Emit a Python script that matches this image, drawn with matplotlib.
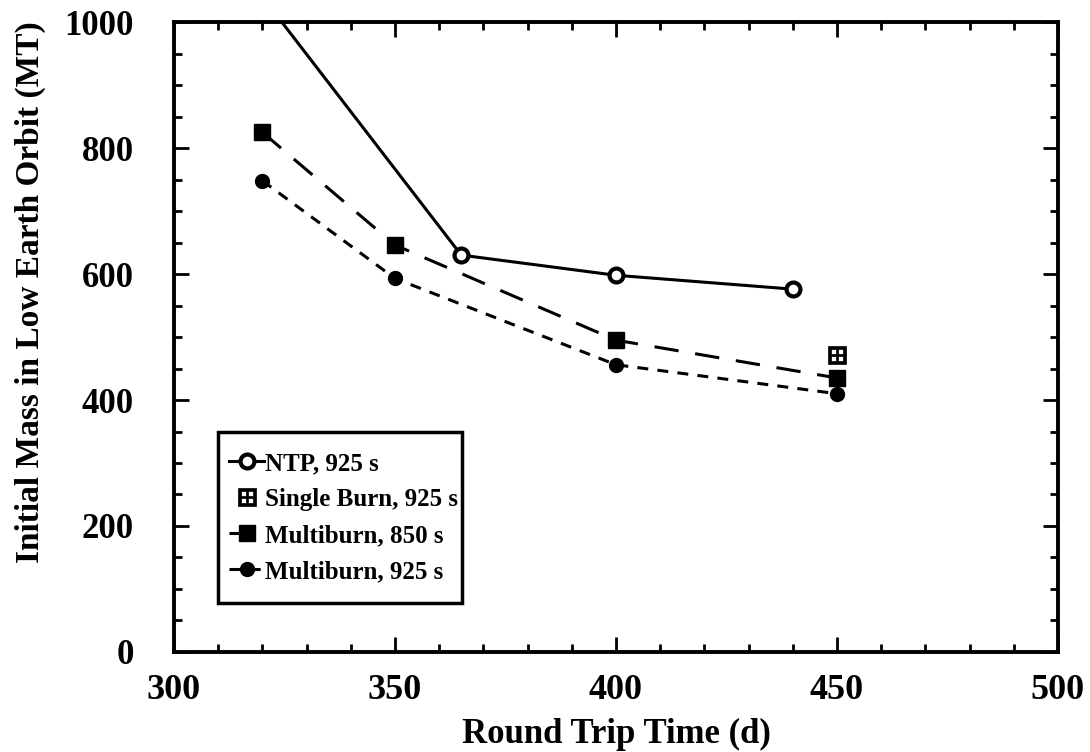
import matplotlib
matplotlib.use("Agg")
import matplotlib.pyplot as plt
from matplotlib.path import Path
from matplotlib.patches import Rectangle
from matplotlib.ticker import MultipleLocator

# data
ntp_x = [320, 365, 400, 440]
ntp_y = [1040, 630, 598, 576]

single_x = [450]
single_y = [471]

mb850_x = [320, 350, 400, 450]
mb850_y = [825, 646, 495, 435]

mb925_x = [320, 350, 400, 450]
mb925_y = [748, 593, 456, 410]

plt.rcParams['font.family'] = ['Liberation Serif', 'DejaVu Serif']
plt.rcParams['font.weight'] = 'bold'


def box(x0, y0, x1, y1, ccw=True):
    pts = [(x0, y0), (x1, y0), (x1, y1), (x0, y1)]
    if not ccw:
        pts = pts[::-1]
    return pts + [(x0, y0)]


# square with a cross: black square with four white windows
verts = box(-1, -1, 1, 1)
codes = [Path.MOVETO] + [Path.LINETO] * 3 + [Path.CLOSEPOLY]
for (a, b) in [(-0.7, -0.7), (0.15, -0.7), (-0.7, 0.15), (0.15, 0.15)]:
    verts += box(a, b, a + 0.55, b + 0.55, ccw=False)
    codes += [Path.MOVETO] + [Path.LINETO] * 3 + [Path.CLOSEPOLY]
cross_square = Path(verts, codes)

fig = plt.figure(figsize=(10.9, 7.52), dpi=100)
ax = fig.add_axes([0.1596, 0.133, 0.811, 0.8377])

ax.plot(ntp_x, ntp_y, color='black', lw=2.2, marker='o', ms=10,
        mfc='white', mec='black', mew=3, label='NTP, 925 s')
ax.plot(single_x, single_y, ls='none', marker=cross_square, ms=13,
        mfc='black', mec='black', mew=0.5, label='Single Burn, 925 s')
ax.plot(mb850_x, mb850_y, color='black', lw=2.2, ls=(0, (8, 5.5)), marker='s',
        ms=11, mfc='black', mec='black', label='Multiburn, 850 s')
ax.plot(mb925_x, mb925_y, color='black', lw=2.2, ls=(0, (3.6, 3)), marker='o',
        ms=10, mfc='black', mec='black', label='Multiburn, 925 s')

ax.set_xlim(300, 500)
ax.set_ylim(0, 1000)
ax.xaxis.set_major_locator(MultipleLocator(50))
ax.xaxis.set_minor_locator(MultipleLocator(10))
ax.yaxis.set_major_locator(MultipleLocator(200))
ax.yaxis.set_minor_locator(MultipleLocator(50))
ax.tick_params(which='both', direction='in', top=True, right=True, width=2)
ax.tick_params(which='major', length=11)
ax.tick_params(which='minor', length=6)
ax.tick_params(axis='x', which='major', labelsize=26, pad=16)
ax.tick_params(axis='y', which='major', labelsize=25, pad=29)
for s in ax.spines.values():
    s.set_linewidth(2.8)

ax.set_xlabel('Round Trip Time (d)', fontsize=25, fontweight='bold', labelpad=8)
ax.set_ylabel('Initial Mass in Low Earth Orbit (MT)', fontsize=24,
              fontweight='bold')
ax.yaxis.set_label_coords(-0.145, 0.571)

# legend entries without frame, box drawn separately (reference has tall padding)
leg = ax.legend(loc='center left', bbox_to_anchor=(0.054, 0.2135), fontsize=18,
                frameon=False, handlelength=1.4, handletextpad=0.05,
                borderpad=0.3, labelspacing=0.52, borderaxespad=0)
ax.add_patch(Rectangle((0.0498, 0.0778), 0.276, 0.2714, transform=ax.transAxes,
                       fill=False, lw=2.5, ec='black', zorder=5))

fig.savefig('out.png', dpi=100)
